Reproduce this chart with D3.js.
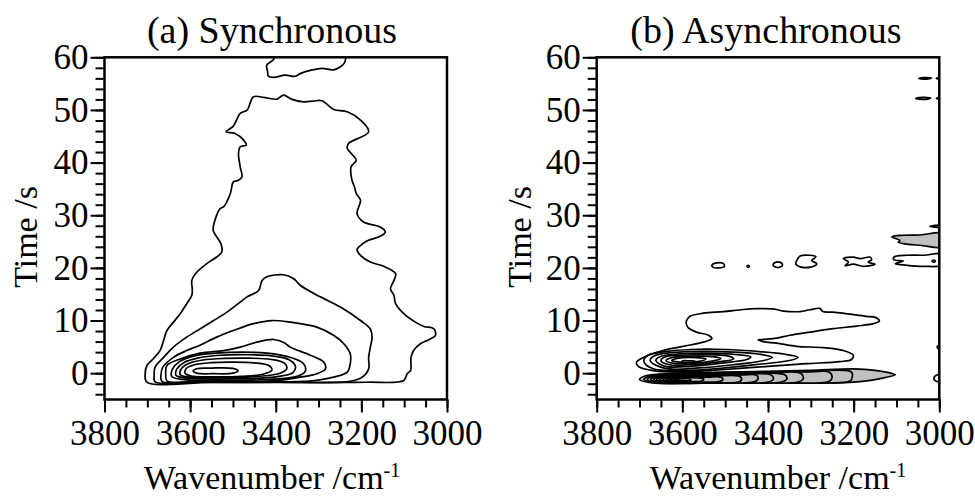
<!DOCTYPE html>
<html><head><meta charset="utf-8">
<script src="https://cdn.jsdelivr.net/npm/d3@7"></script>
<style>html,body{margin:0;padding:0;background:#fff;}svg{display:block;}</style>
</head><body>
<svg id="chart" width="975" height="497"></svg>
<script>
// ---------- tick labels ----------
const xTickValues = [3800, 3600, 3400, 3200, 3000];
const yTickValues = [0, 10, 20, 30, 40, 50, 60];
const panelTitles = ["(a) Synchronous", "(b) Asynchronous"];
const xTitle = "Wavenumber /cm";
const xTitleSup = "-1";
const yTitle = "Time /s";

// ---------- (a) synchronous contours : [wavenumber, time] ----------
const synOuter = [[3701,-1.7],[3705,-0.1],[3701,1.46],[3686,2.74],[3670,4.32],[3662,6.22],[3654,8.12],[3639,9.7],[3623,11.3],[3608,13.2],[3596,14.78],[3595,16.05],[3596,17.63],[3584,19.21],[3561,20.81],[3538,22.07],[3526,23.02],[3528,24.61],[3546,27.14],[3542,29.05],[3530,31.27],[3522,31.58],[3506,34.13],[3499,36.33],[3487,36.66],[3479,37.28],[3483,39.19],[3487,41.73],[3483,42.99],[3469,43.31],[3475,44.27],[3495,45.54],[3516,45.84],[3499,46.93],[3483,49.34],[3467,49.97],[3452,52.5],[3429,52.39],[3397,52.06],[3382,52.83],[3362,52.01],[3335,51.55],[3312,51.68],[3292,51.74],[3265,50.1],[3233,49.65],[3202,48.07],[3183,45.84],[3230,43.64],[3233,42.69],[3222,41.6],[3212,40.46],[3224,39.19],[3222,36.66],[3216,35.38],[3212,34.13],[3202,32.85],[3210,30.32],[3195,28.72],[3156,27.77],[3144,26.82],[3156,26.0],[3187,25.11],[3206,23.97],[3210,23.47],[3202,22.39],[3179,21.11],[3148,20.3],[3120,18.91],[3124,17.63],[3132,16.05],[3124,14.78],[3120,13.2],[3101,11.3],[3074,9.7],[3054,8.88],[3031,8.45],[3027,7.17],[3046,6.22],[3062,5.59],[3078,4.32],[3084,3.04],[3085,0.51],[3093,-0.11],[3101,-1.39],[3187,-1.72],[3350,-1.75],[3550,-1.75]];
const synTop = [[3405,61],[3405,59.6],[3421,58.5],[3419,57.3],[3417,56.4],[3405,56.2],[3378,56.6],[3354,56.4],[3343,56.9],[3315,57.6],[3292,57.9],[3265,57.6],[3249,58.2],[3240,58.9],[3237,59.6],[3237,61]];
const syn2 = [[3682,-1.65],[3684,-0.4],[3682,1.15],[3662,3.0],[3639,4.95],[3608,6.85],[3577,8.4],[3545,10.0],[3514,11.6],[3483,13.5],[3467,14.5],[3440,15.7],[3432,17.6],[3421,18.3],[3382,18.7],[3358,17.95],[3343,16.7],[3296,14.5],[3249,12.55],[3202,10.0],[3179,8.4],[3175,6.85],[3179,4.95],[3183,3.0],[3183,0.8],[3198,-0.76],[3230,-1.6],[3400,-1.72],[3600,-1.72]];
const syn3 = [[3666,-1.55],[3668,-0.3],[3664,1.1],[3639,3.0],[3608,4.3],[3577,5.3],[3538,6.85],[3499,8.1],[3452,9.4],[3409,10.0],[3366,9.7],[3304,8.75],[3265,7.2],[3241,5.6],[3226,3.7],[3226,1.8],[3233,0.2],[3265,-0.76],[3320,-1.5],[3450,-1.65],[3600,-1.65]];
const syn4 = [[3654,-1.45],[3657,-0.2],[3654,1.5],[3623,2.7],[3577,3.8],[3522,4.3],[3483,4.95],[3444,5.9],[3405,6.4],[3380,5.8],[3366,4.95],[3319,3.4],[3288,2.1],[3284,0.8],[3304,-0.1],[3343,-0.76],[3400,-1.4],[3550,-1.55]];
const syn5 = [[3643,-0.6],[3641,0.8],[3625,2.2],[3590,3.3],[3540,3.8],[3480,4.0],[3420,3.8],[3370,3.1],[3335,1.8],[3331,0.4],[3350,-0.6],[3420,-1.2],[3550,-1.35],[3620,-1.2]];
const syn6 = [[3633,-0.4],[3631,0.8],[3615,2.0],[3580,2.9],[3530,3.4],[3470,3.5],[3410,3.3],[3370,2.6],[3354,1.3],[3360,0.1],[3400,-0.7],[3480,-1.05],[3570,-1.1],[3615,-0.9]];
const syn7 = [[3623,-0.3],[3621,0.8],[3605,1.8],[3570,2.5],[3520,2.8],[3460,2.85],[3410,2.6],[3380,1.9],[3374,0.9],[3390,0.0],[3440,-0.6],[3520,-0.85],[3590,-0.8],[3615,-0.6]];
const syn8 = [[3612,0.0],[3609,0.9],[3590,1.6],[3550,2.0],[3500,2.1],[3450,1.95],[3415,1.4],[3409,0.6],[3430,-0.2],[3480,-0.6],[3550,-0.7],[3600,-0.5]];
const syn9 = [[3593,0.4],[3585,0.85],[3550,0.97],[3500,0.9],[3488,0.45],[3500,0.0],[3545,-0.1],[3585,0.0]];
const synContours = [synOuter, synTop, syn2, syn3, syn4, syn5, syn6, syn7, syn8, syn9];

// ---------- (b) asynchronous contours ----------
const asynOuter = [[3590,10.0],[3582,10.8],[3551,11.4],[3504,11.7],[3458,12.1],[3426,12.25],[3388,12.2],[3364,11.8],[3325,11.7],[3302,12.05],[3279,12.3],[3272,11.7],[3248,11.6],[3209,11.2],[3170,10.8],[3146,10.5],[3140,9.9],[3154,9.4],[3193,8.95],[3248,8.45],[3302,7.8],[3349,7.2],[3388,6.55],[3415,6.4],[3423,6.35],[3411,6.0],[3380,5.7],[3333,5.1],[3271,4.85],[3224,4.3],[3201,3.4],[3205,2.6],[3232,2.2],[3310,1.8],[3400,1.3],[3500,0.7],[3600,0.25],[3665,0.45],[3703,1.3],[3707,2.1],[3691,3.0],[3645,4.3],[3598,5.1],[3551,5.9],[3531,6.55],[3539,7.2],[3567,7.8],[3586,8.6],[3591,9.4]];
const asynRingA = [[3690,2.3],[3680,3.4],[3640,4.1],[3580,4.5],[3500,4.5],[3420,4.1],[3360,3.6],[3330,3.0],[3350,2.4],[3420,1.7],[3500,1.0],[3600,0.5],[3670,0.9]];
const asynRingB = [[3675,2.4],[3665,3.3],[3620,3.95],[3550,4.15],[3480,4.0],[3420,3.6],[3390,3.0],[3410,2.4],[3480,1.6],[3560,1.0],[3640,0.9]];
const asynRingC = [[3662,2.4],[3650,3.2],[3600,3.7],[3540,3.8],[3480,3.6],[3440,3.1],[3450,2.6],[3510,1.9],[3580,1.3],[3640,1.3]];
const asynRingD = [[3650,2.4],[3640,3.1],[3590,3.45],[3530,3.5],[3490,3.2],[3480,2.7],[3520,2.1],[3580,1.6],[3630,1.6]];
const asynRingE = [[3638,2.4],[3625,2.95],[3580,3.2],[3530,3.15],[3510,2.8],[3530,2.3],[3580,1.9],[3620,1.85]];
const asynRingF = [[3625,2.4],[3612,2.8],[3570,2.95],[3545,2.7],[3560,2.25],[3600,2.05]];
const asynRingG = [[3602,2.0],[3600,2.3],[3585,2.35],[3570,2.25],[3572,1.75],[3590,1.7]];
const asynPositive = [asynOuter, asynRingA, asynRingB, asynRingC, asynRingD, asynRingE, asynRingF, asynRingG];

const asynNeg1 = [[3700,-1.2],[3685,-0.5],[3620,0.0],[3500,0.2],[3400,0.35],[3300,0.55],[3200,0.8],[3150,0.55],[3115,0.05],[3103,-0.3],[3125,-0.8],[3160,-1.35],[3210,-1.75],[3350,-1.85],[3550,-1.9],[3670,-1.85]];
const asynNeg2 = [[3690,-1.2],[3675,-0.55],[3610,-0.1],[3500,0.1],[3400,0.25],[3300,0.4],[3225,0.55],[3205,0.2],[3203,-0.6],[3208,-1.5],[3300,-1.8],[3500,-1.85],[3660,-1.8]];
const asynNeg3 = [[3682,-1.2],[3668,-0.6],[3600,-0.2],[3500,0.0],[3400,0.15],[3300,0.25],[3260,0.3],[3252,-0.2],[3251,-1.0],[3258,-1.6],[3400,-1.8],[3600,-1.8],[3660,-1.75]];
const asynNeg4 = [[3674,-1.2],[3660,-0.65],[3590,-0.3],[3500,-0.1],[3400,0.05],[3330,0.15],[3320,-0.3],[3318,-1.1],[3330,-1.7],[3450,-1.8],[3620,-1.8],[3660,-1.7]];
const asynNeg5 = [[3667,-1.2],[3652,-0.7],[3580,-0.4],[3480,-0.2],[3380,-0.05],[3360,-0.35],[3356,-1.1],[3370,-1.7],[3500,-1.8],[3640,-1.7]];
const asynNeg6 = [[3660,-1.2],[3645,-0.75],[3570,-0.45],[3470,-0.25],[3400,-0.15],[3390,-0.5],[3388,-1.2],[3400,-1.7],[3520,-1.8],[3630,-1.7]];
const asynNeg7 = [[3652,-1.2],[3638,-0.8],[3560,-0.55],[3460,-0.35],[3428,-0.35],[3423,-0.9],[3430,-1.6],[3540,-1.75],[3625,-1.65]];
const asynNeg8 = [[3645,-1.25],[3630,-0.85],[3550,-0.65],[3470,-0.5],[3462,-0.9],[3465,-1.55],[3560,-1.7],[3620,-1.6]];
const asynNeg9 = [[3638,-1.25],[3622,-0.9],[3540,-0.75],[3510,-0.75],[3505,-1.2],[3515,-1.6],[3580,-1.65],[3615,-1.55]];
const asynNeg10 = [[3630,-1.3],[3615,-1.0],[3560,-0.9],[3550,-1.15],[3555,-1.5],[3600,-1.55]];
const asynNeg11 = [[3620,-1.3],[3605,-1.1],[3585,-1.05],[3580,-1.3],[3600,-1.45]];
const asynBand25 = [[3111,25.9],[3084,26.2],[3045,26.25],[2990,26.5],[2990,24.05],[3045,24.3],[3084,24.6],[3096,24.9],[3092,25.2]];
const asynEdgeNeg = [[2990,-0.2],[3008,-0.45],[3013,-1.0],[3008,-1.5],[2990,-1.7]];
const asynNegative = [asynNeg1, asynNeg2, asynNeg3, asynNeg4, asynNeg5, asynNeg6, asynNeg7, asynNeg8, asynNeg9, asynNeg10, asynNeg11, asynBand25];

const asynIsle1 = [[3531,20.5],[3520,20.95],[3504,20.8],[3502,20.3],[3515,20.0],[3528,20.1]];
const asynIsle2 = [[3449,20.3],[3446,20.5],[3443,20.3],[3446,20.1]];
const asynIsle3 = [[3388,20.6],[3384,21.0],[3370,21.0],[3366,20.6],[3370,20.2],[3384,20.2]];
const asynIsle4 = [[3333,21.4],[3325,22.25],[3302,22.4],[3288,22.1],[3298,21.4],[3286,20.8],[3298,20.2],[3325,20.2],[3335,20.7]];
const asynIsle5 = [[3224,21.75],[3201,22.05],[3185,21.75],[3162,22.05],[3158,21.55],[3166,21.1],[3150,20.7],[3177,20.3],[3201,20.7],[3220,20.4],[3212,21.1]];
const asynIsle6 = [[3106,22.05],[3076,22.4],[3037,22.4],[2990,22.6],[2990,20.6],[3037,20.3],[3076,20.5],[3103,20.8],[3084,21.3],[3106,21.55]];
const asynIsle7 = [[3017,21.3],[3013,21.5],[3009,21.3],[3013,21.1]];
const asynDash56 = [[3048,56.0],[3035,56.15],[3018,56.05],[3030,55.85]];
const asynDot56 = [[3007,56.0],[3003,56.12],[2990,56.1],[2990,55.9],[3003,55.88]];
const asynDash52 = [[3055,52.2],[3040,52.4],[3020,52.25],[3035,52.0]];
const asynDot52 = [[3007,52.2],[3003,52.32],[2990,52.3],[2990,52.1],[3003,52.08]];
const asynDot28 = [[3022,27.9],[3012,28.05],[2990,28.05],[2990,27.75],[3012,27.75]];
const asynDot5 = [[2990,5.2],[3003,5.2],[3005,4.95],[3003,4.7],[2990,4.7]];
const asynSmall = [asynIsle1, asynIsle2, asynIsle3, asynIsle4, asynIsle5, asynIsle6, asynIsle7, asynDash56, asynDot56, asynDash52, asynDot52, asynDot28, asynDot5, asynEdgeNeg];

// ---------- drawing ----------
const svg = d3.select("#chart");
const FONT = "'Liberation Serif','Times New Roman',Times,serif";
const yScale = d3.scaleLinear().domain([-5, 60]).range([399.5, 57.3]);

const panels = [
  {x0: 104.5, x1: 447, title: panelTitles[0], titleX: 272, xtX: 272, ytX: 25,
   layers: [{data: synContours, fill: "none"}]},
  {x0: 596.7, x1: 939.3, title: panelTitles[1], titleX: 766, xtX: 778, ytX: 519,
   layers: [{data: asynNegative, fill: "#c0c0c0"}, {data: asynPositive, fill: "none"}, {data: asynSmall, fill: "none"}]}
];

panels.forEach((p, i) => {
  const x = d3.scaleLinear().domain([3800, 3000]).range([p.x0, p.x1]);
  const g = svg.append("g");
  const clipId = "clip" + i;
  svg.append("clipPath").attr("id", clipId).append("rect")
    .attr("x", p.x0).attr("y", yScale(60)).attr("width", p.x1 - p.x0).attr("height", yScale(-5) - yScale(60));

  const line = d3.line().x(d => x(d[0])).y(d => yScale(d[1])).curve(d3.curveCatmullRomClosed.alpha(0.5));
  const cg = g.append("g").attr("clip-path", `url(#${clipId})`);
  p.layers.forEach(layer => {
    cg.append("g").selectAll("path").data(layer.data).join("path")
      .attr("d", line).attr("fill", layer.fill).attr("stroke", "#000")
      .attr("stroke-width", 1.7).attr("stroke-linejoin", "round");
  });

  // frame
  g.append("rect").attr("x", p.x0).attr("y", yScale(60)).attr("width", p.x1 - p.x0)
    .attr("height", yScale(-5) - yScale(60)).attr("fill", "none").attr("stroke", "#000").attr("stroke-width", 2.5);

  // x axis
  const yb = yScale(-5);
  const xMinor = g.append("g").attr("transform", `translate(0,${yb})`)
    .call(d3.axisBottom(x).tickValues(x.ticks(16)).tickSize(8).tickFormat(""));
  const xMajor = g.append("g").attr("transform", `translate(0,${yb})`)
    .call(d3.axisBottom(x).tickValues(xTickValues).tickSize(13).tickPadding(8).tickFormat(d3.format("d")));
  // y axis
  const yMinor = g.append("g").attr("transform", `translate(${p.x0},0)`)
    .call(d3.axisLeft(yScale).tickValues(yScale.ticks(32)).tickSize(9).tickFormat(""));
  const yMajor = g.append("g").attr("transform", `translate(${p.x0},0)`)
    .call(d3.axisLeft(yScale).tickValues(yTickValues).tickSize(14).tickPadding(2).tickFormat(d3.format("d")));
  [xMinor, xMajor, yMinor, yMajor].forEach(a => {
    a.select(".domain").remove();
    a.selectAll(".tick line").attr("stroke", "#000").attr("stroke-width", 2);
    a.selectAll("text").attr("font-family", FONT).attr("font-size", 35).attr("fill", "#000");
  });

  // titles
  g.append("text").attr("x", p.titleX).attr("y", 43).attr("text-anchor", "middle")
    .attr("font-family", FONT).attr("font-size", 38).text(p.title);
  const xt = g.append("text").attr("x", p.xtX).attr("y", 489).attr("text-anchor", "middle")
    .attr("font-family", FONT).attr("font-size", 34);
  xt.append("tspan").text(xTitle);
  xt.append("tspan").attr("dy", -12).attr("font-size", 20).text(xTitleSup);
  g.append("text").attr("transform", `translate(${p.ytX},237) rotate(-90)`).attr("dy", "0.35em")
    .attr("text-anchor", "middle").attr("font-family", FONT).attr("font-size", 34).text(yTitle);
});
</script>
</body></html>
